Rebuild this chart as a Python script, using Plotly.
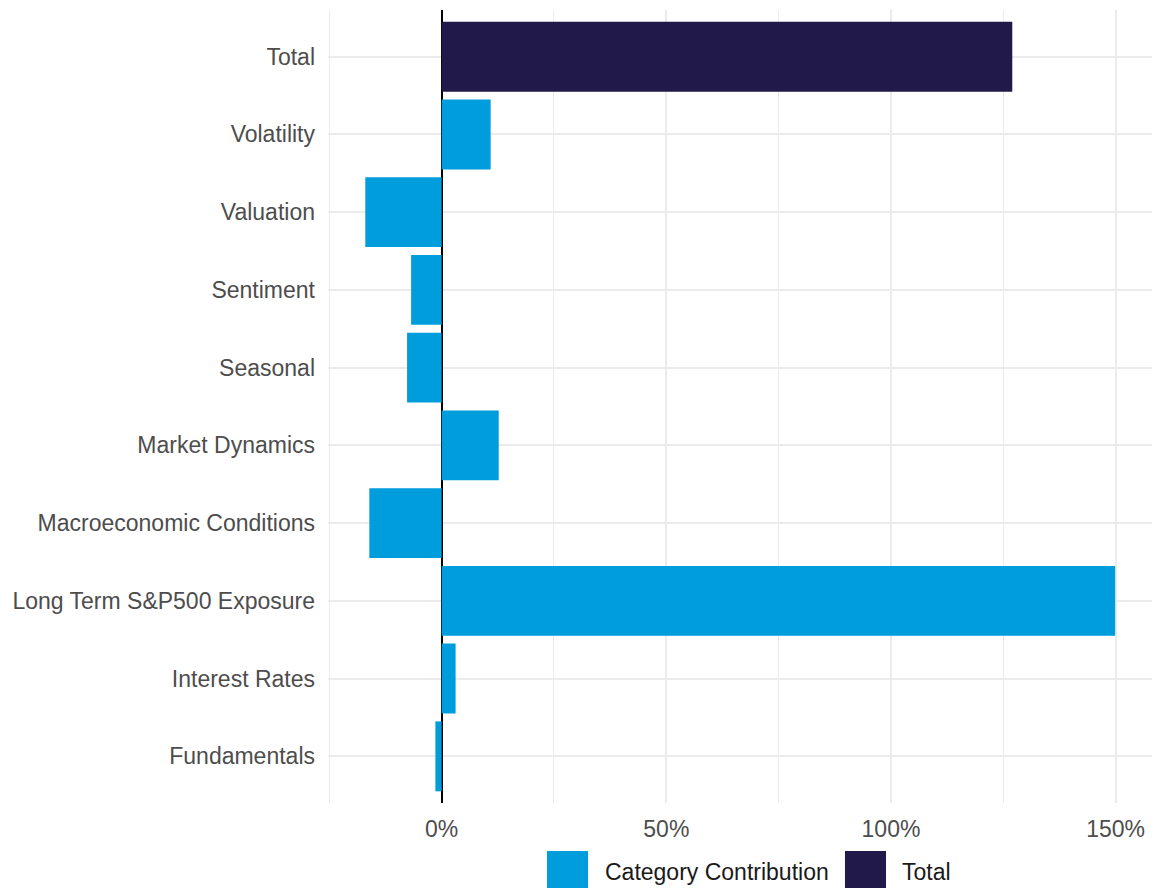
import plotly.graph_objects as go

# Data (percent contributions), bottom-to-top order
categories = ["Fundamentals", "Interest Rates", "Long Term S&P500 Exposure",
              "Macroeconomic Conditions", "Market Dynamics", "Seasonal",
              "Sentiment", "Valuation", "Volatility"]
contrib_values = [-1.4, 3.1, 149.9, -16.1, 12.7, -7.7, -6.8, -17.0, 10.9]
total_label = ["Total"]
total_value = [127.0]

x_tickvals = [0, 50, 100, 150]
x_ticktext = ["0%", "50%", "100%", "150%"]

legend_names = ["Category Contribution", "Total"]
BLUE = "#009ddc"
NAVY = "#21194a"
FONT = "Liberation Sans, Arial, Helvetica, sans-serif"
FS = 23

fig = go.Figure()
fig.add_trace(go.Bar(y=categories, x=contrib_values, orientation="h",
                     marker=dict(color=BLUE, line=dict(width=0)), width=0.9,
                     name=legend_names[0], showlegend=False))
fig.add_trace(go.Bar(y=total_label, x=total_value, orientation="h",
                     marker=dict(color=NAVY, line=dict(width=0)), width=0.9,
                     name=legend_names[1], showlegend=False))

fig.update_layout(
    width=1152, height=888,
    margin=dict(l=328, r=0, t=10, b=85),
    plot_bgcolor="white", paper_bgcolor="white",
    barmode="overlay",
    font=dict(family=FONT, size=FS, color="#4d4d4d"),
    xaxis=dict(range=[-25.3, 158.1], tickvals=x_tickvals, ticktext=x_ticktext,
               showgrid=True, gridcolor="#ebebeb", gridwidth=2,
               minor=dict(tickvals=[-25, 25, 75, 125], showgrid=True,
                          gridcolor="#ebebeb", gridwidth=1),
               zeroline=True, zerolinecolor="black", zerolinewidth=2,
               showline=False, ticks="", ticklabelstandoff=10,
               tickfont=dict(size=FS, color="#4d4d4d")),
    yaxis=dict(categoryorder="array", categoryarray=categories + total_label,
               range=[-0.6, 9.6], showgrid=True, gridcolor="#ebebeb", gridwidth=2,
               zeroline=False, showline=False, ticks="", ticklabelstandoff=12,
               tickfont=dict(size=FS, color="#4d4d4d")),
)

# Manual legend (large square keys, as in the reference)
legend_items = [(legend_names[0], BLUE, 0.2658, 0.3337),
                (legend_names[1], NAVY, 0.6274, 0.6942)]
for name, color, kx, tx in legend_items:
    fig.add_shape(type="rect", xref="paper", yref="paper",
                  x0=kx, x1=kx + 0.0498, y0=-0.1110, y1=-0.0605,
                  fillcolor=color, line=dict(width=0))
    fig.add_annotation(text=name, xref="paper", yref="paper", x=tx, y=-0.0870,
                       xanchor="left", yanchor="middle", showarrow=False,
                       font=dict(family=FONT, size=FS, color="#1a1a1a"))

fig.write_html(
    "out.html",
    config={"displayModeBar": False},
    post_script="document.body.style.margin='0';document.body.style.overflow='hidden';",
)
